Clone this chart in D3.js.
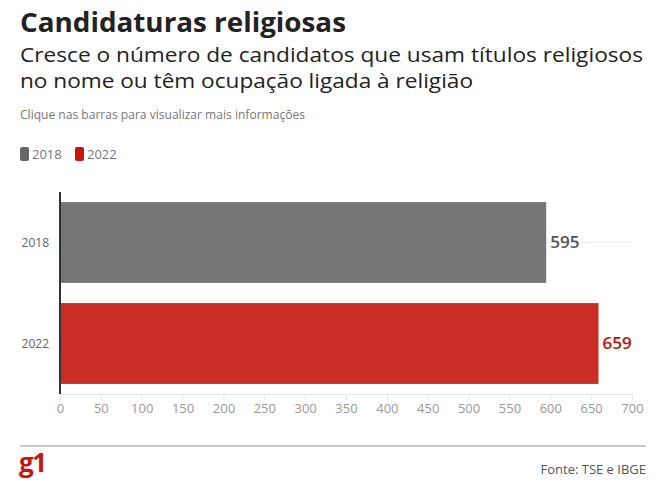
<!DOCTYPE html>
<html><head><meta charset="utf-8">
<script src="https://cdn.jsdelivr.net/npm/d3@7"></script>
<style>body{margin:0;background:#fff}svg{display:block}text{font-family:"Open Sans",sans-serif}</style>
</head><body>
<svg id="c" width="672" height="504"></svg>
<script>
const categories = ["2018", "2022"];
const values = [595, 659];
const colors = ["#767676", "#c92d25"];
const labelColors = ["#555555", "#b5150d"];
const tickValues = [0,50,100,150,200,250,300,350,400,450,500,550,600,650,700];

const svg = d3.select("#c");
const x = d3.scaleLinear().domain([0, 700]).range([60, 632]);
const y = d3.scaleBand().domain(categories).range([192, 394]).paddingInner(0.2).paddingOuter(0.1);

// Header
svg.append("text").attr("x",20).attr("y",32).attr("font-size",26).attr("font-weight",700).attr("fill","#222")
  .attr("textLength",326).attr("lengthAdjust","spacingAndGlyphs").text("Candidaturas religiosas");
svg.append("text").attr("x",20).attr("y",62).attr("font-size",20).attr("fill","#222")
  .attr("textLength",623).attr("lengthAdjust","spacingAndGlyphs").text("Cresce o número de candidatos que usam títulos religiosos");
svg.append("text").attr("x",20).attr("y",88).attr("font-size",20).attr("fill","#222")
  .attr("textLength",453).attr("lengthAdjust","spacingAndGlyphs").text("no nome ou têm ocupação ligada à religião");
svg.append("text").attr("x",20).attr("y",119).attr("font-size",12).attr("fill","#777")
  .attr("textLength",285).attr("lengthAdjust","spacingAndGlyphs").text("Clique nas barras para visualizar mais informações");

// Legend
const lg = svg.append("g");
const legX = [20, 75];
categories.forEach((c,i)=>{
  lg.append("rect").attr("x",legX[i]).attr("y",147).attr("width",9).attr("height",14).attr("rx",2).attr("fill", i===0?"#666":"#c4170c");
  lg.append("text").attr("x",legX[i]+12).attr("y",159).attr("font-size",13).attr("fill","#777").text(c);
});

// Gridlines
svg.append("g").selectAll("line").data(categories).join("line")
  .attr("x1",60).attr("x2",632).attr("y1",d=>y(d)+y.bandwidth()/2).attr("y2",d=>y(d)+y.bandwidth()/2)
  .attr("stroke","#ececec").attr("stroke-width",1);

// X axis
const xAxis = svg.append("g").attr("transform","translate(0,394)")
  .call(d3.axisBottom(x).tickValues(tickValues).tickSize(6).tickPadding(4));
xAxis.select(".domain").attr("stroke","#e6e6e6");
xAxis.selectAll(".tick line").attr("stroke","#e6e6e6");
xAxis.selectAll(".tick text").attr("font-size",13).attr("fill","#999").attr("font-family","'Open Sans',sans-serif");

// Bars
svg.append("g").selectAll("rect").data(categories).join("rect")
  .attr("x",x(0)).attr("y",d=>y(d)).attr("width",(d,i)=>x(values[i])-x(0)).attr("height",y.bandwidth())
  .attr("fill",(d,i)=>colors[i]);

// Value labels
svg.append("g").selectAll("text").data(categories).join("text")
  .attr("x",(d,i)=>x(values[i])+4).attr("y",d=>y(d)+y.bandwidth()/2).attr("dy","0.35em")
  .attr("font-size",17).attr("font-weight",600).attr("fill",(d,i)=>labelColors[i])
  .text((d,i)=>values[i]);

// Y axis
svg.append("line").attr("x1",60).attr("x2",60).attr("y1",192).attr("y2",394).attr("stroke","#333").attr("stroke-width",2);
svg.append("g").selectAll("text").data(categories).join("text")
  .attr("x",49).attr("y",d=>y(d)+y.bandwidth()/2).attr("dy","0.35em").attr("text-anchor","end")
  .attr("font-size",12).attr("fill","#666").text(d=>d);

// Footer
svg.append("line").attr("x1",20).attr("x2",646).attr("y1",446).attr("y2",446).attr("stroke","#c8c8c8").attr("stroke-width",2);
svg.append("text").attr("x",19).attr("y",472).attr("font-size",26).attr("font-weight",700).attr("fill","#c4170c")
  .attr("letter-spacing",-1.5).text("g1");
svg.append("text").attr("x",646).attr("y",474).attr("text-anchor","end").attr("font-size",13).attr("fill","#555").text("Fonte: TSE e IBGE");
</script>
</body></html>
